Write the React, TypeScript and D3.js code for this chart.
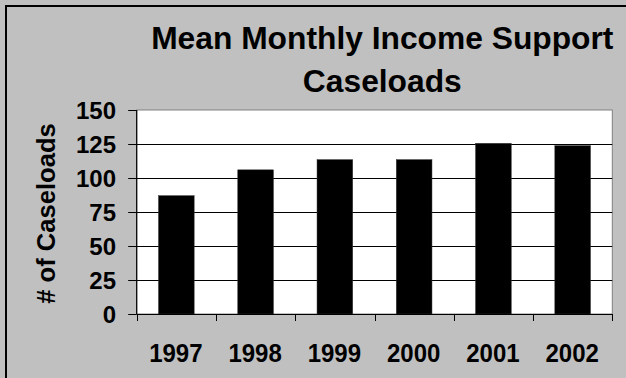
import React from "react";
import * as d3 from "d3";

const years = ["1997", "1998", "1999", "2000", "2001", "2002"];
const caseloads = [87, 106, 113.5, 113.5, 125.5, 123.8];
const yTicks = [0, 25, 50, 75, 100, 125, 150];
const titleLines = ["Mean Monthly Income Support", "Caseloads"];
const yTitle = "# of Caseloads";

const W = 626;
const H = 378;
const plot = { left: 136.7, right: 612.3, top: 110, bottom: 314 };
const FONT = "'Liberation Sans', Arial, Helvetica, sans-serif";

export default function App() {
  const x = d3
    .scaleBand<string>()
    .domain(years)
    .range([plot.left, plot.right])
    .paddingInner(0.55)
    .paddingOuter(0.275);
  const y = d3.scaleLinear().domain([0, 150]).range([plot.bottom, plot.top]);
  const step = x.step();
  const boundaries = d3.range(years.length + 1).map((i) => plot.left + i * step);

  return (
    <svg
      width={W}
      height={H}
      style={{ position: "fixed", left: 0, top: 0, display: "block" }}
      fontFamily={FONT}
    >
      <rect x={0} y={0} width={W} height={H} fill="#c0c0c0" />
      <rect x={6} y={6} width={W + 10} height={H + 10} fill="none" stroke="#000" strokeWidth={2} />

      {/* title */}
      {titleLines.map((t, i) => (
        <g key={t} transform={`translate(382.3,${49.3 + i * 42.2}) scale(1.025,1)`}>
          <text x={0} y={0} textAnchor="middle" fontSize={31} fontWeight="bold" fill="#000">
            {t}
          </text>
        </g>
      ))}

      {/* plot area */}
      <rect
        x={plot.left}
        y={plot.top}
        width={plot.right - plot.left}
        height={plot.bottom - plot.top}
        fill="#fff"
        stroke="#808080"
        strokeWidth={1}
      />

      {/* gridlines */}
      {yTicks
        .filter((v) => v > 0 && v < 150)
        .map((v) => (
          <line
            key={v}
            x1={plot.left}
            x2={plot.right}
            y1={Math.round(y(v)) + 0.5}
            y2={Math.round(y(v)) + 0.5}
            stroke="#000"
            strokeWidth={1}
          />
        ))}

      {/* bars */}
      {years.map((yr, i) => (
        <rect
          key={yr}
          x={x(yr)!}
          y={y(caseloads[i])}
          width={x.bandwidth()}
          height={plot.bottom - y(caseloads[i])}
          fill="#000"
          stroke="#333"
          strokeWidth={0.5}
        />
      ))}

      {/* y axis */}
      <line x1={plot.left} x2={plot.left} y1={plot.top} y2={plot.bottom} stroke="#000" strokeWidth={1.2} />
      {yTicks.map((v) => (
        <g key={v}>
          <line
            x1={plot.left - 8.5}
            x2={plot.left}
            y1={Math.round(y(v)) + 0.5}
            y2={Math.round(y(v)) + 0.5}
            stroke="#000"
            strokeWidth={1}
          />
          <text
            x={116}
            y={y(v) + 8.5}
            textAnchor="end"
            fontSize={24}
            fontWeight="bold"
            fill="#000"
          >
            {v}
          </text>
        </g>
      ))}

      {/* x axis */}
      <line x1={plot.left} x2={plot.right} y1={plot.bottom + 0.5} y2={plot.bottom + 0.5} stroke="#000" strokeWidth={1.2} />
      {boundaries.map((bx, i) => (
        <line
          key={i}
          x1={Math.round(bx) + 0.5}
          x2={Math.round(bx) + 0.5}
          y1={plot.bottom}
          y2={plot.bottom + 7}
          stroke="#000"
          strokeWidth={1}
        />
      ))}
      {years.map((yr) => (
        <g key={yr} transform={`translate(${x(yr)! + x.bandwidth() / 2 - 0.5},361.7) scale(1,1.1)`}>
          <text x={0} y={0} textAnchor="middle" fontSize={24} fontWeight="bold" fill="#000">
            {yr}
          </text>
        </g>
      ))}

      {/* y axis title */}
      <text
        transform={`translate(55,${(plot.top + plot.bottom) / 2 + 1.5}) rotate(-90)`}
        textAnchor="middle"
        fontSize={25.6}
        fontWeight="bold"
        fill="#000"
      >
        {yTitle}
      </text>
    </svg>
  );
}
